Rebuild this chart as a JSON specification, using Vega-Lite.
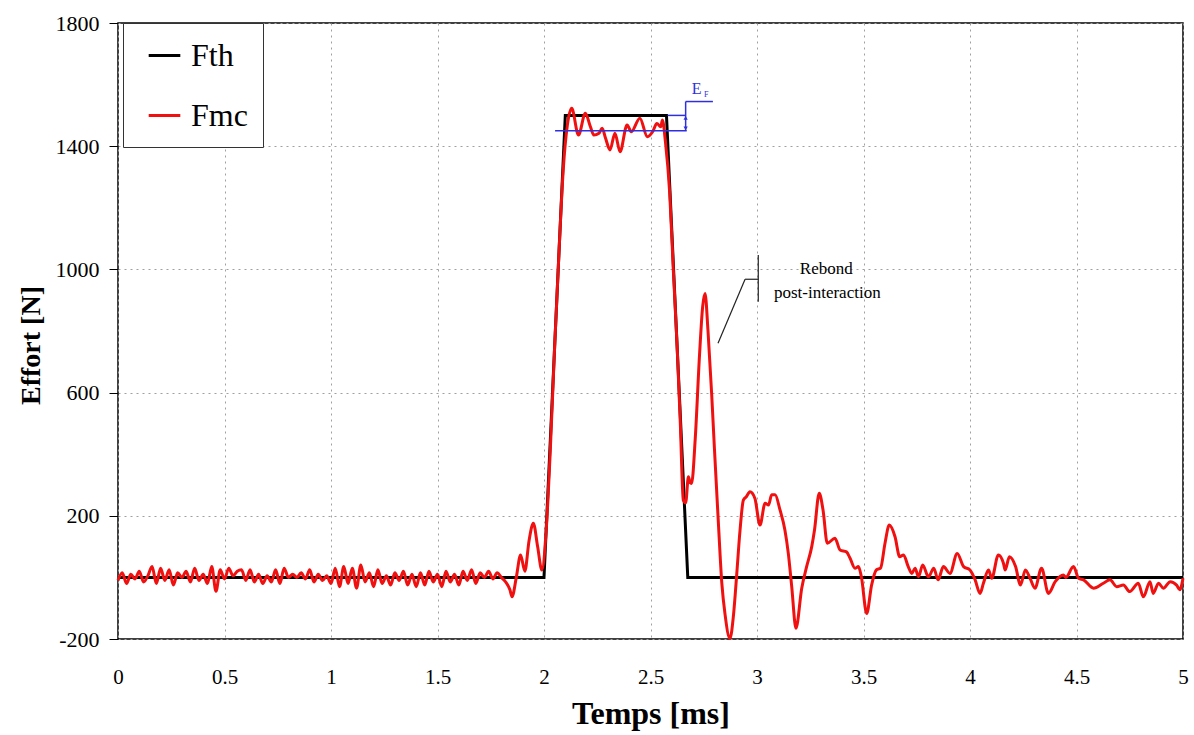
{
  "$schema": "https://vega.github.io/schema/vega-lite/v6.json",
  "width": 1065,
  "height": 616,
  "autosize": "none",
  "padding": {"left": 118, "top": 23, "right": 11, "bottom": 96},
  "background": "white",
  "config": {
    "view": {"stroke": "black", "strokeWidth": 1.5},
    "font": "Liberation Serif",
    "axis": {
      "labelFont": "Liberation Serif",
      "titleFont": "Liberation Serif",
      "labelColor": "black",
      "titleColor": "black",
      "labelFontSize": 21,
      "titleFontSize": 27,
      "titleFontWeight": "bold",
      "grid": true,
      "gridColor": "#a0a0a0",
      "gridDash": [2, 4],
      "gridWidth": 1,
      "domain": false,
      "tickColor": "black"
    }
  },
  "datasets": {
    "curves": [
      {"t": 0, "F": 0, "s": "Fth"},
      {"t": 2.0, "F": 0, "s": "Fth"},
      {"t": 2.1, "F": 1500, "s": "Fth"},
      {"t": 2.575, "F": 1500, "s": "Fth"},
      {"t": 2.675, "F": 0, "s": "Fth"},
      {"t": 5, "F": 0, "s": "Fth"},
      {"t": 0.00, "F": -10, "s": "Fmc"},
      {"t": 0.02, "F": 15, "s": "Fmc"},
      {"t": 0.04, "F": -20, "s": "Fmc"},
      {"t": 0.06, "F": 10, "s": "Fmc"},
      {"t": 0.08, "F": -5, "s": "Fmc"},
      {"t": 0.10, "F": 20, "s": "Fmc"},
      {"t": 0.12, "F": -15, "s": "Fmc"},
      {"t": 0.14, "F": 5, "s": "Fmc"},
      {"t": 0.16, "F": 35, "s": "Fmc"},
      {"t": 0.18, "F": -20, "s": "Fmc"},
      {"t": 0.20, "F": 30, "s": "Fmc"},
      {"t": 0.22, "F": -10, "s": "Fmc"},
      {"t": 0.24, "F": 25, "s": "Fmc"},
      {"t": 0.26, "F": -25, "s": "Fmc"},
      {"t": 0.28, "F": 15, "s": "Fmc"},
      {"t": 0.30, "F": 0, "s": "Fmc"},
      {"t": 0.32, "F": 20, "s": "Fmc"},
      {"t": 0.34, "F": -15, "s": "Fmc"},
      {"t": 0.36, "F": 30, "s": "Fmc"},
      {"t": 0.38, "F": -10, "s": "Fmc"},
      {"t": 0.40, "F": 10, "s": "Fmc"},
      {"t": 0.42, "F": -20, "s": "Fmc"},
      {"t": 0.44, "F": 35, "s": "Fmc"},
      {"t": 0.46, "F": -45, "s": "Fmc"},
      {"t": 0.48, "F": 25, "s": "Fmc"},
      {"t": 0.50, "F": -5, "s": "Fmc"},
      {"t": 0.52, "F": 30, "s": "Fmc"},
      {"t": 0.54, "F": 5, "s": "Fmc"},
      {"t": 0.56, "F": 20, "s": "Fmc"},
      {"t": 0.58, "F": 25, "s": "Fmc"},
      {"t": 0.60, "F": -10, "s": "Fmc"},
      {"t": 0.62, "F": 25, "s": "Fmc"},
      {"t": 0.64, "F": -15, "s": "Fmc"},
      {"t": 0.66, "F": 10, "s": "Fmc"},
      {"t": 0.68, "F": -20, "s": "Fmc"},
      {"t": 0.70, "F": 5, "s": "Fmc"},
      {"t": 0.72, "F": -15, "s": "Fmc"},
      {"t": 0.74, "F": 25, "s": "Fmc"},
      {"t": 0.76, "F": -20, "s": "Fmc"},
      {"t": 0.78, "F": 30, "s": "Fmc"},
      {"t": 0.80, "F": 0, "s": "Fmc"},
      {"t": 0.82, "F": 10, "s": "Fmc"},
      {"t": 0.84, "F": 0, "s": "Fmc"},
      {"t": 0.86, "F": 15, "s": "Fmc"},
      {"t": 0.88, "F": -5, "s": "Fmc"},
      {"t": 0.90, "F": 25, "s": "Fmc"},
      {"t": 0.92, "F": -15, "s": "Fmc"},
      {"t": 0.94, "F": 10, "s": "Fmc"},
      {"t": 0.96, "F": -10, "s": "Fmc"},
      {"t": 0.98, "F": 5, "s": "Fmc"},
      {"t": 1.00, "F": -20, "s": "Fmc"},
      {"t": 1.02, "F": 30, "s": "Fmc"},
      {"t": 1.04, "F": -30, "s": "Fmc"},
      {"t": 1.06, "F": 35, "s": "Fmc"},
      {"t": 1.08, "F": -20, "s": "Fmc"},
      {"t": 1.10, "F": 30, "s": "Fmc"},
      {"t": 1.12, "F": -35, "s": "Fmc"},
      {"t": 1.14, "F": 40, "s": "Fmc"},
      {"t": 1.16, "F": -15, "s": "Fmc"},
      {"t": 1.18, "F": 15, "s": "Fmc"},
      {"t": 1.20, "F": -30, "s": "Fmc"},
      {"t": 1.22, "F": 25, "s": "Fmc"},
      {"t": 1.24, "F": -20, "s": "Fmc"},
      {"t": 1.26, "F": 5, "s": "Fmc"},
      {"t": 1.28, "F": -25, "s": "Fmc"},
      {"t": 1.30, "F": 15, "s": "Fmc"},
      {"t": 1.32, "F": -10, "s": "Fmc"},
      {"t": 1.34, "F": 20, "s": "Fmc"},
      {"t": 1.36, "F": -25, "s": "Fmc"},
      {"t": 1.38, "F": 10, "s": "Fmc"},
      {"t": 1.40, "F": -30, "s": "Fmc"},
      {"t": 1.42, "F": 15, "s": "Fmc"},
      {"t": 1.44, "F": -25, "s": "Fmc"},
      {"t": 1.46, "F": 20, "s": "Fmc"},
      {"t": 1.48, "F": -15, "s": "Fmc"},
      {"t": 1.50, "F": 10, "s": "Fmc"},
      {"t": 1.52, "F": -30, "s": "Fmc"},
      {"t": 1.54, "F": 20, "s": "Fmc"},
      {"t": 1.56, "F": -15, "s": "Fmc"},
      {"t": 1.58, "F": 10, "s": "Fmc"},
      {"t": 1.60, "F": -25, "s": "Fmc"},
      {"t": 1.62, "F": 20, "s": "Fmc"},
      {"t": 1.64, "F": -10, "s": "Fmc"},
      {"t": 1.66, "F": 25, "s": "Fmc"},
      {"t": 1.68, "F": -20, "s": "Fmc"},
      {"t": 1.70, "F": 15, "s": "Fmc"},
      {"t": 1.72, "F": 0, "s": "Fmc"},
      {"t": 1.74, "F": 20, "s": "Fmc"},
      {"t": 1.76, "F": -5, "s": "Fmc"},
      {"t": 1.78, "F": 15, "s": "Fmc"},
      {"t": 1.80, "F": 0, "s": "Fmc"},
      {"t": 1.82, "F": -15, "s": "Fmc"},
      {"t": 1.84, "F": -40, "s": "Fmc"},
      {"t": 1.85, "F": -63, "s": "Fmc"},
      {"t": 1.87, "F": 0, "s": "Fmc"},
      {"t": 1.89, "F": 73, "s": "Fmc"},
      {"t": 1.91, "F": 20, "s": "Fmc"},
      {"t": 1.93, "F": 120, "s": "Fmc"},
      {"t": 1.95, "F": 176, "s": "Fmc"},
      {"t": 1.97, "F": 100, "s": "Fmc"},
      {"t": 1.99, "F": 24, "s": "Fmc"},
      {"t": 2.01, "F": 150, "s": "Fmc"},
      {"t": 2.03, "F": 420, "s": "Fmc"},
      {"t": 2.05, "F": 750, "s": "Fmc"},
      {"t": 2.07, "F": 1050, "s": "Fmc"},
      {"t": 2.09, "F": 1320, "s": "Fmc"},
      {"t": 2.11, "F": 1470, "s": "Fmc"},
      {"t": 2.13, "F": 1523, "s": "Fmc"},
      {"t": 2.162, "F": 1436, "s": "Fmc"},
      {"t": 2.194, "F": 1507, "s": "Fmc"},
      {"t": 2.218, "F": 1463, "s": "Fmc"},
      {"t": 2.234, "F": 1436, "s": "Fmc"},
      {"t": 2.258, "F": 1442, "s": "Fmc"},
      {"t": 2.273, "F": 1458, "s": "Fmc"},
      {"t": 2.289, "F": 1426, "s": "Fmc"},
      {"t": 2.31, "F": 1388, "s": "Fmc"},
      {"t": 2.333, "F": 1442, "s": "Fmc"},
      {"t": 2.357, "F": 1382, "s": "Fmc"},
      {"t": 2.39, "F": 1469, "s": "Fmc"},
      {"t": 2.41, "F": 1447, "s": "Fmc"},
      {"t": 2.45, "F": 1491, "s": "Fmc"},
      {"t": 2.485, "F": 1431, "s": "Fmc"},
      {"t": 2.51, "F": 1447, "s": "Fmc"},
      {"t": 2.53, "F": 1474, "s": "Fmc"},
      {"t": 2.548, "F": 1463, "s": "Fmc"},
      {"t": 2.556, "F": 1485, "s": "Fmc"},
      {"t": 2.57, "F": 1415, "s": "Fmc"},
      {"t": 2.59, "F": 1250, "s": "Fmc"},
      {"t": 2.607, "F": 1000, "s": "Fmc"},
      {"t": 2.625, "F": 750, "s": "Fmc"},
      {"t": 2.64, "F": 500, "s": "Fmc"},
      {"t": 2.654, "F": 251, "s": "Fmc"},
      {"t": 2.665, "F": 242, "s": "Fmc"},
      {"t": 2.678, "F": 327, "s": "Fmc"},
      {"t": 2.685, "F": 310, "s": "Fmc"},
      {"t": 2.693, "F": 305, "s": "Fmc"},
      {"t": 2.71, "F": 450, "s": "Fmc"},
      {"t": 2.73, "F": 720, "s": "Fmc"},
      {"t": 2.745, "F": 880, "s": "Fmc"},
      {"t": 2.756, "F": 922, "s": "Fmc"},
      {"t": 2.77, "F": 800, "s": "Fmc"},
      {"t": 2.787, "F": 598, "s": "Fmc"},
      {"t": 2.80, "F": 420, "s": "Fmc"},
      {"t": 2.818, "F": 186, "s": "Fmc"},
      {"t": 2.835, "F": -20, "s": "Fmc"},
      {"t": 2.85, "F": -120, "s": "Fmc"},
      {"t": 2.873, "F": -198, "s": "Fmc"},
      {"t": 2.89, "F": -120, "s": "Fmc"},
      {"t": 2.904, "F": 2, "s": "Fmc"},
      {"t": 2.92, "F": 150, "s": "Fmc"},
      {"t": 2.936, "F": 251, "s": "Fmc"},
      {"t": 2.95, "F": 262, "s": "Fmc"},
      {"t": 2.967, "F": 278, "s": "Fmc"},
      {"t": 2.99, "F": 257, "s": "Fmc"},
      {"t": 3.014, "F": 170, "s": "Fmc"},
      {"t": 3.038, "F": 241, "s": "Fmc"},
      {"t": 3.054, "F": 235, "s": "Fmc"},
      {"t": 3.069, "F": 268, "s": "Fmc"},
      {"t": 3.085, "F": 268, "s": "Fmc"},
      {"t": 3.108, "F": 219, "s": "Fmc"},
      {"t": 3.131, "F": 154, "s": "Fmc"},
      {"t": 3.147, "F": 78, "s": "Fmc"},
      {"t": 3.163, "F": -30, "s": "Fmc"},
      {"t": 3.183, "F": -165, "s": "Fmc"},
      {"t": 3.21, "F": -35, "s": "Fmc"},
      {"t": 3.233, "F": 35, "s": "Fmc"},
      {"t": 3.257, "F": 100, "s": "Fmc"},
      {"t": 3.27, "F": 154, "s": "Fmc"},
      {"t": 3.292, "F": 273, "s": "Fmc"},
      {"t": 3.31, "F": 219, "s": "Fmc"},
      {"t": 3.33, "F": 111, "s": "Fmc"},
      {"t": 3.366, "F": 127, "s": "Fmc"},
      {"t": 3.39, "F": 89, "s": "Fmc"},
      {"t": 3.42, "F": 83, "s": "Fmc"},
      {"t": 3.437, "F": 62, "s": "Fmc"},
      {"t": 3.46, "F": 30, "s": "Fmc"},
      {"t": 3.476, "F": 35, "s": "Fmc"},
      {"t": 3.49, "F": 2, "s": "Fmc"},
      {"t": 3.515, "F": -117, "s": "Fmc"},
      {"t": 3.538, "F": -25, "s": "Fmc"},
      {"t": 3.56, "F": 24, "s": "Fmc"},
      {"t": 3.58, "F": 30, "s": "Fmc"},
      {"t": 3.601, "F": 111, "s": "Fmc"},
      {"t": 3.621, "F": 170, "s": "Fmc"},
      {"t": 3.648, "F": 132, "s": "Fmc"},
      {"t": 3.67, "F": 67, "s": "Fmc"},
      {"t": 3.688, "F": 73, "s": "Fmc"},
      {"t": 3.71, "F": 35, "s": "Fmc"},
      {"t": 3.727, "F": 13, "s": "Fmc"},
      {"t": 3.742, "F": 30, "s": "Fmc"},
      {"t": 3.758, "F": 2, "s": "Fmc"},
      {"t": 3.778, "F": 40, "s": "Fmc"},
      {"t": 3.805, "F": 2, "s": "Fmc"},
      {"t": 3.83, "F": 30, "s": "Fmc"},
      {"t": 3.85, "F": -8, "s": "Fmc"},
      {"t": 3.875, "F": 35, "s": "Fmc"},
      {"t": 3.906, "F": 13, "s": "Fmc"},
      {"t": 3.94, "F": 78, "s": "Fmc"},
      {"t": 3.97, "F": 35, "s": "Fmc"},
      {"t": 4.0, "F": 24, "s": "Fmc"},
      {"t": 4.024, "F": -8, "s": "Fmc"},
      {"t": 4.047, "F": -52, "s": "Fmc"},
      {"t": 4.063, "F": -19, "s": "Fmc"},
      {"t": 4.087, "F": 24, "s": "Fmc"},
      {"t": 4.102, "F": -3, "s": "Fmc"},
      {"t": 4.133, "F": 73, "s": "Fmc"},
      {"t": 4.157, "F": 46, "s": "Fmc"},
      {"t": 4.165, "F": 24, "s": "Fmc"},
      {"t": 4.185, "F": 67, "s": "Fmc"},
      {"t": 4.214, "F": 35, "s": "Fmc"},
      {"t": 4.237, "F": -25, "s": "Fmc"},
      {"t": 4.26, "F": 24, "s": "Fmc"},
      {"t": 4.282, "F": -3, "s": "Fmc"},
      {"t": 4.305, "F": -35, "s": "Fmc"},
      {"t": 4.336, "F": 30, "s": "Fmc"},
      {"t": 4.368, "F": -52, "s": "Fmc"},
      {"t": 4.4, "F": -14, "s": "Fmc"},
      {"t": 4.438, "F": 8, "s": "Fmc"},
      {"t": 4.45, "F": 0, "s": "Fmc"},
      {"t": 4.486, "F": 35, "s": "Fmc"},
      {"t": 4.51, "F": -3, "s": "Fmc"},
      {"t": 4.533, "F": -8, "s": "Fmc"},
      {"t": 4.58, "F": -35, "s": "Fmc"},
      {"t": 4.626, "F": -19, "s": "Fmc"},
      {"t": 4.657, "F": -8, "s": "Fmc"},
      {"t": 4.689, "F": -30, "s": "Fmc"},
      {"t": 4.72, "F": -25, "s": "Fmc"},
      {"t": 4.75, "F": -46, "s": "Fmc"},
      {"t": 4.79, "F": -19, "s": "Fmc"},
      {"t": 4.814, "F": -63, "s": "Fmc"},
      {"t": 4.845, "F": -14, "s": "Fmc"},
      {"t": 4.86, "F": -52, "s": "Fmc"},
      {"t": 4.885, "F": -19, "s": "Fmc"},
      {"t": 4.908, "F": -35, "s": "Fmc"},
      {"t": 4.94, "F": -14, "s": "Fmc"},
      {"t": 4.97, "F": -25, "s": "Fmc"},
      {"t": 4.985, "F": -40, "s": "Fmc"},
      {"t": 5.0, "F": -3, "s": "Fmc"}
    ],
    "blueSegs": [
      {"x": 2.052, "x2": 2.67, "y": 1450, "y2": 1450},
      {"x": 2.58, "x2": 2.665, "y": 1500, "y2": 1500},
      {"x": 2.665, "x2": 2.665, "y": 1545, "y2": 1450},
      {"x": 2.665, "x2": 2.793, "y": 1545, "y2": 1545}
    ],
    "blackSegs": [
      {"x": 2.817, "x2": 2.944, "y": 760, "y2": 968},
      {"x": 2.944, "x2": 3.006, "y": 968, "y2": 968},
      {"x": 3.006, "x2": 3.006, "y": 1047, "y2": 895}
    ],
    "arrows": [
      {"x": 2.665, "y": 1492, "shape": "triangle-up"},
      {"x": 2.665, "y": 1458, "shape": "triangle-down"}
    ],
    "labels": [
      {"x": 3.325, "y": 1001, "txt": "Rebond"},
      {"x": 3.33, "y": 924, "txt": "post-interaction"}
    ]
  },
  "encoding": {
    "x": {
      "field": "t", "type": "quantitative",
      "scale": {"domain": [0, 5], "nice": false, "zero": false},
      "axis": {
        "title": "Temps [ms]",
        "titleFontSize": 32,
        "values": [0, 0.5, 1, 1.5, 2, 2.5, 3, 3.5, 4, 4.5, 5],
        "labelExpr": "'' + datum.value",
        "tickSize": 0,
        "labelPadding": 27,
        "titlePadding": 11,
        "labelFlush": false
      }
    },
    "y": {
      "field": "F", "type": "quantitative",
      "scale": {"domain": [-200, 1800], "nice": false, "zero": false},
      "axis": {
        "title": "Effort [N]",
        "titleFontSize": 28,
        "titleY": 322,
        "values": [-200, 200, 600, 1000, 1400, 1800],
        "labelExpr": "'' + datum.value",
        "labelFontSize": 22,
        "tickSize": 9,
        "labelPadding": 10,
        "titlePadding": 10
      }
    },
    "color": {
      "field": "s", "type": "nominal",
      "scale": {"domain": ["Fth", "Fmc"], "range": ["black", "#f01010"]},
      "legend": {
        "title": null,
        "orient": "none",
        "legendX": 5,
        "legendY": 0,
        "symbolType": "stroke",
        "symbolSize": 1000,
        "symbolStrokeWidth": 3,
        "symbolOffset": 9,
        "labelFontSize": 32,
        "labelFont": "Liberation Serif",
        "labelColor": "black",
        "labelOffset": 9,
        "rowPadding": 26,
        "padding": 15,
        "strokeColor": "#333333",
        "fillColor": "white",
        "labelLimit": 200
      }
    }
  },
  "layer": [
    {
      "data": {"name": "curves"},
      "transform": [{"filter": "datum.s == 'Fth'"}],
      "mark": {"type": "line", "strokeWidth": 3, "interpolate": "linear"}
    },
    {
      "data": {"name": "curves"},
      "transform": [{"filter": "datum.s == 'Fmc'"}],
      "mark": {"type": "line", "strokeWidth": 3, "interpolate": "monotone"}
    },
    {
      "data": {"name": "blueSegs"},
      "mark": {"type": "rule", "strokeWidth": 1.5},
      "encoding": {
        "x": {"field": "x", "type": "quantitative"},
        "x2": {"field": "x2"},
        "y": {"field": "y", "type": "quantitative"},
        "y2": {"field": "y2"},
        "color": {"value": "#2f2fe0"}
      }
    },
    {
      "data": {"name": "arrows"},
      "mark": {"type": "point", "filled": true, "size": 18, "opacity": 1},
      "encoding": {
        "x": {"field": "x", "type": "quantitative"},
        "y": {"field": "y", "type": "quantitative"},
        "color": {"value": "#2f2fe0"},
        "shape": {"field": "shape", "type": "nominal", "scale": null, "legend": null}
      }
    },
    {
      "data": {"values": [{"x": 2.717, "y": 1586, "txt": "E"}]},
      "mark": {"type": "text", "fontSize": 16, "font": "Liberation Serif", "align": "center", "baseline": "middle"},
      "encoding": {
        "x": {"field": "x", "type": "quantitative"},
        "y": {"field": "y", "type": "quantitative"},
        "text": {"field": "txt"},
        "color": {"value": "#2f2fe0"}
      }
    },
    {
      "data": {"values": [{"x": 2.762, "y": 1566, "txt": "F"}]},
      "mark": {"type": "text", "fontSize": 8, "font": "Liberation Serif", "align": "center", "baseline": "middle"},
      "encoding": {
        "x": {"field": "x", "type": "quantitative"},
        "y": {"field": "y", "type": "quantitative"},
        "text": {"field": "txt"},
        "color": {"value": "#2f2fe0"}
      }
    },
    {
      "data": {"name": "blackSegs"},
      "mark": {"type": "rule", "strokeWidth": 1.2},
      "encoding": {
        "x": {"field": "x", "type": "quantitative"},
        "x2": {"field": "x2"},
        "y": {"field": "y", "type": "quantitative"},
        "y2": {"field": "y2"},
        "color": {"value": "#222222"}
      }
    },
    {
      "data": {"name": "labels"},
      "mark": {"type": "text", "fontSize": 17, "font": "Liberation Serif", "align": "center", "baseline": "middle"},
      "encoding": {
        "x": {"field": "x", "type": "quantitative"},
        "y": {"field": "y", "type": "quantitative"},
        "text": {"field": "txt"},
        "color": {"value": "black"}
      }
    }
  ]
}
